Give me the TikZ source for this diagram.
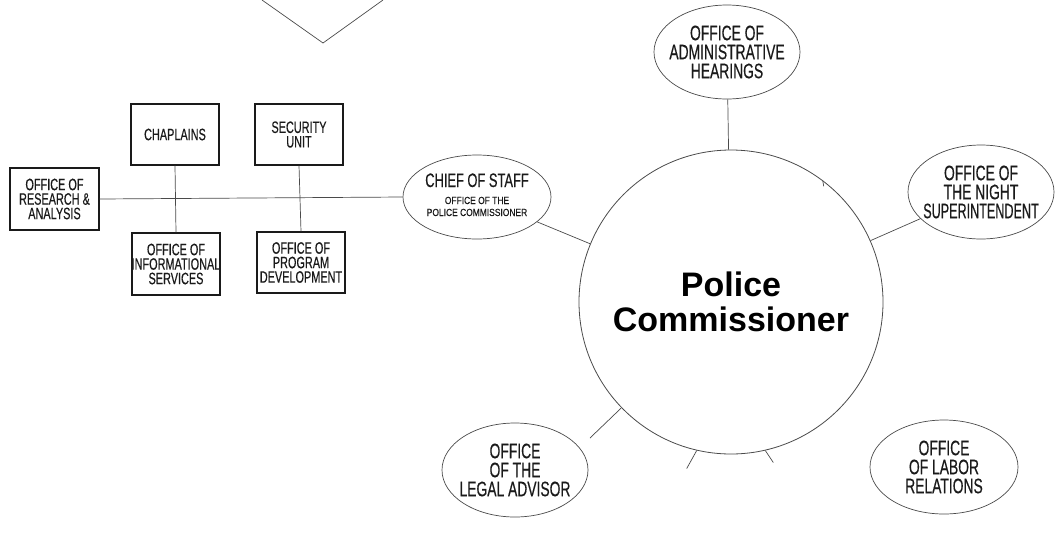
\documentclass[tikz,border=0pt]{standalone}
\usepackage{fontspec}
\setmainfont{Liberation Sans}
\newfontfamily\cn[FakeStretch=0.66,FakeBold=0.4]{Liberation Sans}
\newfontfamily\cnn[FakeStretch=0.6,FakeBold=0.4]{Liberation Sans}
\newfontfamily\cnb[FakeStretch=0.82,FakeBold=0.3]{Liberation Sans}
\usetikzlibrary{shapes.geometric}
\definecolor{ink}{HTML}{1A1A1A}
\definecolor{lin}{HTML}{4A4A4A}
\tikzset{
  unitbox/.style={draw=ink, line width=1.1pt, minimum width=88pt, minimum height=61pt, inner sep=0pt},
  boxtext/.style={align=center, text=ink, font=\cn\fontsize{16.5}{14.5}\selectfont, inner sep=0pt},
  oval/.style={draw=lin, line width=0.7pt, ellipse, minimum width=146pt, minimum height=94pt, inner sep=0pt},
  ovaltext/.style={align=center, text=ink, font=\cn\fontsize{21}{19}\selectfont, inner sep=0pt},
  conn/.style={draw=lin, line width=0.7pt},
}
\begin{document}
\begin{tikzpicture}[x=1pt,y=-1pt]
\useasboundingbox (0,0) rectangle (1063,539);

% cut-off shape at the top
\draw[conn] (262,0) -- (323,43) -- (383,0);

% boxes
\node[unitbox] (research) at (54.5,199) [minimum height=62pt, minimum width=89pt] {};
\node[boxtext] (researcht) at (research.center) {OFFICE OF\\RESEARCH \&\\ANALYSIS};
\node[unitbox] (chaplains) at (175,134.5) {};
\node[boxtext] (chaplainst) at (chaplains.center) {CHAPLAINS};
\node[unitbox] (security) at (299,134.5) {};
\node[boxtext] (securityt) at (security.center) {SECURITY\\UNIT};
\node[unitbox] (info) at (176,264) [minimum height=62pt] {};
\node[boxtext] (infot) at (info.center) {OFFICE OF\\INFORMATIONAL\\SERVICES};
\node[unitbox] (program) at (301,262.5) {};
\node[boxtext] (programt) at (program.center) {OFFICE OF\\PROGRAM\\DEVELOPMENT};

% central circle
\node[draw=lin, line width=0.8pt, circle, minimum size=304pt, inner sep=0pt] (pc) at (731,302) {};
\node[align=center, text=black, inner sep=0pt, font=\bfseries\fontsize{34}{35}\selectfont] (pct) at (731,302) {Police\\Commissioner};

% ellipses
\node[oval, minimum width=148pt, minimum height=84pt] (chief) at (477,197) {};
\node[text=ink, inner sep=0pt, anchor=base, font=\cn\fontsize{19.5}{18}\selectfont] (chiefh) at (477,187) {CHIEF OF STAFF};
\node[text=ink, inner sep=0pt, align=center, anchor=base, font=\cnb\fontsize{10.3}{12}\selectfont] (chiefs) at (477,216) {OFFICE OF THE\\POLICE COMMISSIONER};

\node[oval] (admin) at (727,52) {};
\node[ovaltext] (admint) at (admin.center) {OFFICE OF\\ADMINISTRATIVE\\HEARINGS};
\node[oval] (night) at (981,192) {};
\node[ovaltext] (nightt) at (night.center) {OFFICE OF\\THE NIGHT\\{\cnn SUPERINTENDENT}};
\node[oval] (legal) at (515,470) {};
\node[ovaltext] (legalt) at (legal.center) {OFFICE\\OF THE\\LEGAL ADVISOR};
\node[oval, minimum width=148pt] (labor) at (944,467) {};
\node[ovaltext] (labort) at (labor.center) {OFFICE\\OF LABOR\\RELATIONS};

% connectors
\draw[conn] (research.east) -- (chief.west);
\draw[conn] (chaplains.south) -- (info.north);
\draw[conn] (security.south) -- (program.north);
\draw[conn] (chief) -- (pc);
\draw[conn] (admin) -- (pc);
\draw[conn] (night) -- (pc);
\coordinate (legalend) at (590,438);
\draw[conn] (pc.224) -- (legalend);
% short stubs on the circle
\draw[conn] (pc.257) -- ++(-10,18);
\draw[conn] (pc.283) -- ++(8,12);
\draw[conn] (pc.53.6) -- ++(1,6);
\end{tikzpicture}
\end{document}
